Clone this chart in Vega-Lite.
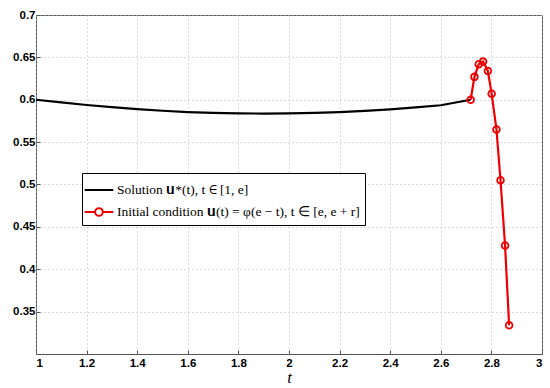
{
  "$schema": "https://vega.github.io/schema/vega-lite/v6.json",
  "width": 506,
  "height": 339,
  "autosize": {"type": "none"},
  "padding": {"left": 36, "top": 15, "right": 8, "bottom": 34},
  "background": "white",
  "config": {
    "view": {"stroke": "#555555", "strokeWidth": 1},
    "axis": {
      "labelFont": "Arial",
      "labelFontWeight": "bold",
      "labelFontSize": 11.5,
      "labelColor": "black",
      "domain": false,
      "tickColor": "#555555",
      "tickSize": -4,
      "grid": true,
      "gridColor": "#b8b8b8",
      "gridDash": [1, 3],
      "gridWidth": 1
    }
  },
  "datasets": {
    "sol": [
      {"t": 1.0, "u": 0.6, "s": "Solution 𝐮*(t), t ∈ [1, e]"},
      {"t": 1.1, "u": 0.5968, "s": "Solution 𝐮*(t), t ∈ [1, e]"},
      {"t": 1.2, "u": 0.5938, "s": "Solution 𝐮*(t), t ∈ [1, e]"},
      {"t": 1.3, "u": 0.5912, "s": "Solution 𝐮*(t), t ∈ [1, e]"},
      {"t": 1.4, "u": 0.5889, "s": "Solution 𝐮*(t), t ∈ [1, e]"},
      {"t": 1.5, "u": 0.587, "s": "Solution 𝐮*(t), t ∈ [1, e]"},
      {"t": 1.6, "u": 0.5855, "s": "Solution 𝐮*(t), t ∈ [1, e]"},
      {"t": 1.7, "u": 0.5845, "s": "Solution 𝐮*(t), t ∈ [1, e]"},
      {"t": 1.8, "u": 0.5839, "s": "Solution 𝐮*(t), t ∈ [1, e]"},
      {"t": 1.9, "u": 0.5837, "s": "Solution 𝐮*(t), t ∈ [1, e]"},
      {"t": 2.0, "u": 0.5839, "s": "Solution 𝐮*(t), t ∈ [1, e]"},
      {"t": 2.1, "u": 0.5845, "s": "Solution 𝐮*(t), t ∈ [1, e]"},
      {"t": 2.2, "u": 0.5855, "s": "Solution 𝐮*(t), t ∈ [1, e]"},
      {"t": 2.3, "u": 0.5869, "s": "Solution 𝐮*(t), t ∈ [1, e]"},
      {"t": 2.4, "u": 0.5887, "s": "Solution 𝐮*(t), t ∈ [1, e]"},
      {"t": 2.5, "u": 0.5909, "s": "Solution 𝐮*(t), t ∈ [1, e]"},
      {"t": 2.6, "u": 0.5935, "s": "Solution 𝐮*(t), t ∈ [1, e]"},
      {"t": 2.718, "u": 0.6, "s": "Solution 𝐮*(t), t ∈ [1, e]"}
    ],
    "init": [
      {"t": 2.718, "u": 0.6, "s": "Initial condition 𝐮(t) = φ(e − t), t ∈ [e, e + r]"},
      {"t": 2.733, "u": 0.627, "s": "Initial condition 𝐮(t) = φ(e − t), t ∈ [e, e + r]"},
      {"t": 2.750, "u": 0.642, "s": "Initial condition 𝐮(t) = φ(e − t), t ∈ [e, e + r]"},
      {"t": 2.767, "u": 0.645, "s": "Initial condition 𝐮(t) = φ(e − t), t ∈ [e, e + r]"},
      {"t": 2.786, "u": 0.634, "s": "Initial condition 𝐮(t) = φ(e − t), t ∈ [e, e + r]"},
      {"t": 2.801, "u": 0.607, "s": "Initial condition 𝐮(t) = φ(e − t), t ∈ [e, e + r]"},
      {"t": 2.820, "u": 0.565, "s": "Initial condition 𝐮(t) = φ(e − t), t ∈ [e, e + r]"},
      {"t": 2.836, "u": 0.505, "s": "Initial condition 𝐮(t) = φ(e − t), t ∈ [e, e + r]"},
      {"t": 2.854, "u": 0.428, "s": "Initial condition 𝐮(t) = φ(e − t), t ∈ [e, e + r]"},
      {"t": 2.870, "u": 0.334, "s": "Initial condition 𝐮(t) = φ(e − t), t ∈ [e, e + r]"}
    ]
  },
  "layer": [
    {
      "data": {"name": "sol"},
      "mark": {"type": "line", "strokeWidth": 2.2},
      "encoding": {
        "x": {"field": "t", "type": "quantitative"},
        "y": {"field": "u", "type": "quantitative"},
        "color": {"field": "s", "type": "nominal"}
      }
    },
    {
      "data": {"name": "init"},
      "mark": {"type": "line", "strokeWidth": 2.2},
      "encoding": {
        "x": {"field": "t", "type": "quantitative"},
        "y": {"field": "u", "type": "quantitative"},
        "color": {"field": "s", "type": "nominal"}
      }
    },
    {
      "data": {"name": "init"},
      "mark": {"type": "point", "shape": "circle", "filled": false, "size": 45, "strokeWidth": 1.8, "opacity": 1},
      "encoding": {
        "x": {"field": "t", "type": "quantitative"},
        "y": {"field": "u", "type": "quantitative"},
        "color": {"field": "s", "type": "nominal"}
      }
    }
  ],
  "resolve": {"scale": {"color": "shared"}},
  "encoding": {
    "x": {
      "field": "t", "type": "quantitative",
      "scale": {"domain": [1, 3], "nice": false, "zero": false},
      "axis": {"values": [1, 1.2, 1.4, 1.6, 1.8, 2, 2.2, 2.4, 2.6, 2.8, 3], "format": "~g", "labelPadding": 7, "title": "t", "titleFont": "Liberation Serif", "titleFontStyle": "italic", "titleFontWeight": "normal", "titleFontSize": 17, "titlePadding": 1}
    },
    "y": {
      "field": "u", "type": "quantitative",
      "scale": {"domain": [0.3, 0.7], "nice": false, "zero": false},
      "axis": {"values": [0.35, 0.4, 0.45, 0.5, 0.55, 0.6, 0.65, 0.7], "format": "~g", "title": null, "labelPadding": 5}
    },
    "color": {
      "field": "s", "type": "nominal",
      "scale": {
        "domain": ["Solution 𝐮*(t), t ∈ [1, e]", "Initial condition 𝐮(t) = φ(e − t), t ∈ [e, e + r]"],
        "range": ["black", "#ee0000"]
      },
      "legend": {
        "title": null,
        "orient": "none",
        "legendX": 46,
        "legendY": 158,
        "labelFont": "Liberation Serif",
        "labelFontSize": 13.5,
        "labelColor": "black",
        "labelLimit": 400,
        "labelOffset": 6,
        "strokeColor": "black",
        "fillColor": "white",
        "padding": 5,
        "rowPadding": 3,
        "symbolSize": 484,
        "symbolStrokeWidth": 2,
        "symbolType": "M-1.3,0H-0.35M0.35,0H1.3M0.35,0A0.35,0.35 0 1,1 -0.35,0A0.35,0.35 0 1,1 0.35,0",
        "symbolFillColor": "transparent",
        "encode": {
          "symbols": {
            "update": {
              "shape": {"signal": "indexof(datum.value, 'Initial') === 0 ? 'M-1.3,0H-0.35M0.35,0H1.3M0.35,0A0.35,0.35 0 1,1 -0.35,0A0.35,0.35 0 1,1 0.35,0' : 'M-1.3,0H1.3'"},
              "fill": {"value": "transparent"}
            }
          }
        }
      }
    }
  }
}
